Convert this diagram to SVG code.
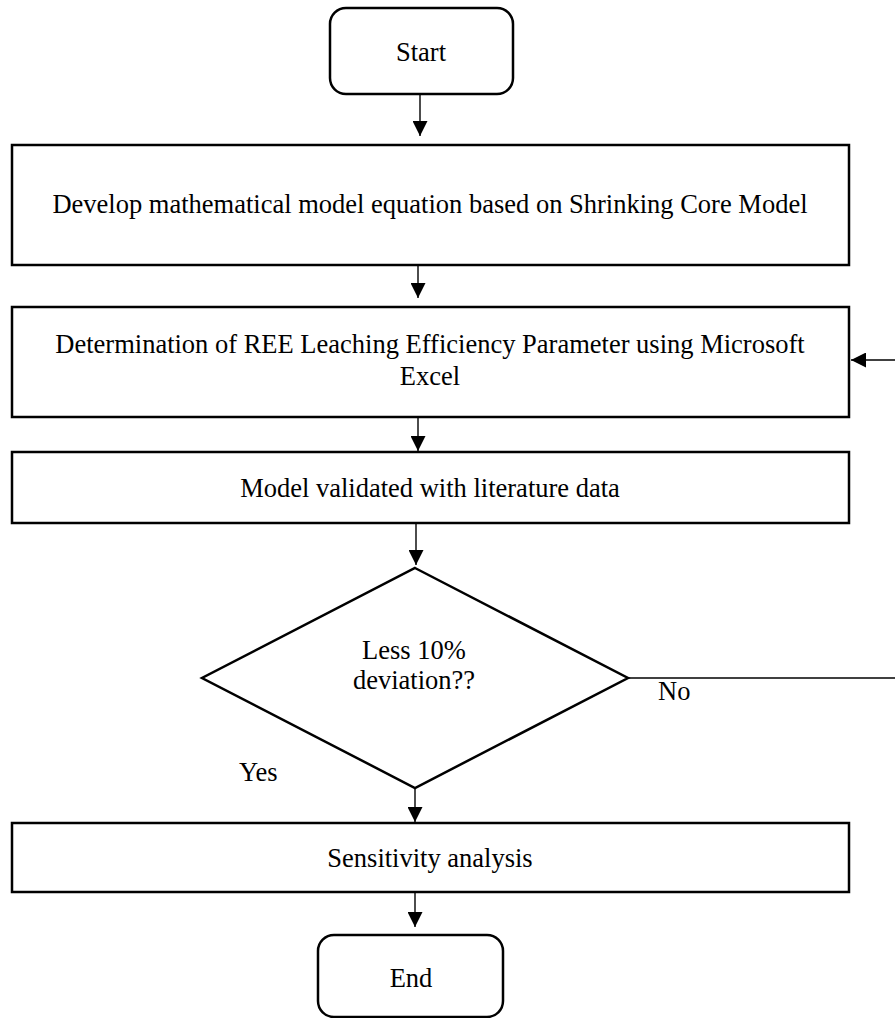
<svg xmlns="http://www.w3.org/2000/svg" width="895" height="1018" viewBox="0 0 895 1018">
<style>
.box{fill:#fff;stroke:#000;stroke-width:2.5}
.txt{font-family:"Liberation Serif","Times New Roman",serif;font-size:26.5px;fill:#000;text-anchor:middle}
.lbl{font-family:"Liberation Serif","Times New Roman",serif;font-size:26.5px;fill:#000}
.con{fill:none;stroke:#000;stroke-width:1.4}
</style>
<defs>
<marker id="ah" viewBox="0 0 15 15" refX="15" refY="7.5" markerWidth="15" markerHeight="15" markerUnits="userSpaceOnUse" orient="auto">
<path d="M0,0 L15,7.5 L0,15 Z" fill="#000"/>
</marker>
</defs>
<rect width="895" height="1018" fill="#fff"/>
<g id="connectors">
<line class="con" x1="420" y1="94" x2="420" y2="136" marker-end="url(#ah)"/>
<line class="con" x1="418" y1="265" x2="418" y2="298" marker-end="url(#ah)"/>
<line class="con" x1="418" y1="417" x2="418" y2="451" marker-end="url(#ah)"/>
<line class="con" x1="416" y1="523" x2="416" y2="565" marker-end="url(#ah)"/>
<line class="con" x1="415" y1="788" x2="415" y2="822" marker-end="url(#ah)"/>
<line class="con" x1="415" y1="892" x2="415" y2="927" marker-end="url(#ah)"/>
<line class="con" x1="628" y1="678" x2="895" y2="678"/>
<line class="con" x1="895" y1="360" x2="851" y2="360" marker-end="url(#ah)"/>
<text class="lbl" x="658" y="700">No</text>
<text class="lbl" x="239" y="781">Yes</text>
</g>
<g id="start">
<rect class="box" x="330" y="8" width="183" height="86" rx="16"/>
<text class="txt" x="421" y="61">Start</text>
</g>
<g id="develop">
<rect class="box" x="12" y="145" width="837" height="120"/>
<text class="txt" x="430" y="213">Develop mathematical model equation based on Shrinking Core Model</text>
</g>
<g id="determination">
<rect class="box" x="12" y="307" width="837" height="110"/>
<text class="txt" x="430" y="353">Determination of REE Leaching Efficiency Parameter using Microsoft</text>
<text class="txt" x="430" y="385">Excel</text>
</g>
<g id="validate">
<rect class="box" x="12" y="452" width="837" height="71"/>
<text class="txt" x="430" y="497">Model validated with literature data</text>
</g>
<g id="decision">
<polygon class="box" points="415,568 628,678 415,788 202,678"/>
<text class="txt" x="414" y="659">Less 10%</text>
<text class="txt" x="414" y="689">deviation??</text>
</g>
<g id="sensitivity">
<rect class="box" x="12" y="823" width="837" height="69"/>
<text class="txt" x="430" y="867">Sensitivity analysis</text>
</g>
<g id="end">
<rect class="box" x="318" y="935" width="185" height="82" rx="16"/>
<text class="txt" x="411" y="987">End</text>
</g>
</svg>
